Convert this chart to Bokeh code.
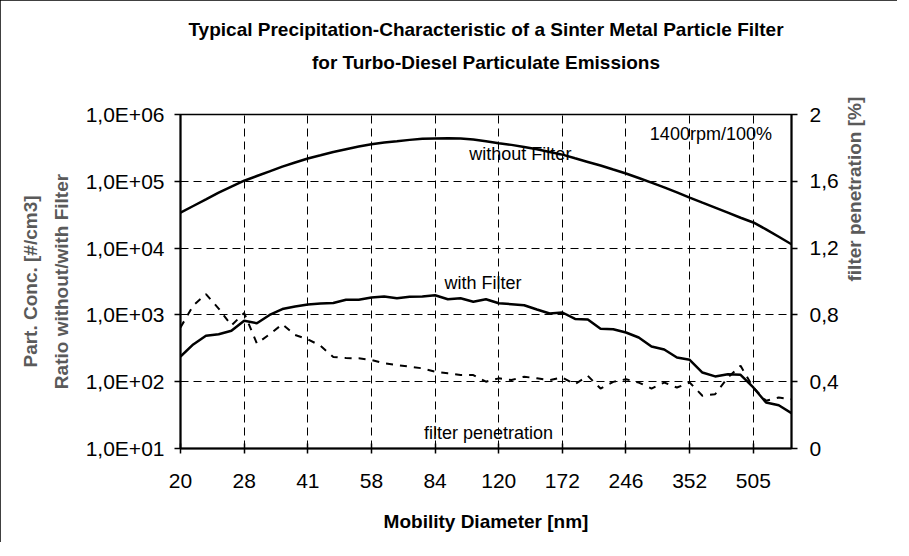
import math
from bokeh.plotting import figure
from bokeh.models import (Range1d, LinearAxis, LinearScale, FixedTicker, Label, Title,
                          CustomJSTickFormatter)
from bokeh.embed import file_html
from bokeh.resources import INLINE

# ---------------- data ----------------
DIAMETER = [19.85, 21.33, 22.92, 24.63, 26.47, 28.45, 30.57, 32.85, 35.30, 37.94,
            40.77, 43.81, 47.08, 50.59, 54.37, 58.42, 62.78, 67.47, 72.50, 77.91,
            83.72, 89.97, 96.68, 103.9, 111.6, 120.0, 128.9, 138.5, 148.9, 160.0,
            171.9, 184.7, 198.5, 213.3, 229.2, 246.3, 264.7, 284.5, 305.7, 328.5,
            353.0, 379.4, 407.7, 438.1, 470.8, 505.9, 543.6, 584.2, 627.8]

WITHOUT_FILTER = [33900, 42700, 53700, 67600, 83200, 102000, 120000, 141000, 166000, 191000,
                  219000, 245000, 275000, 302000, 331000, 359000, 380000, 398000, 417000, 432000,
                  438000, 440000, 437000, 422000, 398000, 372000, 351000, 327000, 302000, 275000,
                  251000, 221000, 195000, 172000, 150000, 131000, 112000, 95500, 81300, 68400,
                  57100, 47900, 40300, 33900, 28500, 24200, 19100, 14800, 11400]

WITH_FILTER = [238, 361, 486, 514, 578, 817, 751, 997, 1225, 1336,
               1431, 1482, 1507, 1683, 1683, 1821, 1885, 1778, 1866, 1885,
               1972, 1718, 1778, 1570, 1718, 1497, 1445, 1396, 1205, 1050,
               1086, 869, 854, 619, 611, 545, 459, 336, 303, 230,
               213, 137, 120, 129, 127, 82, 48.9, 44.5, 33.7]

PENETRATION = [0.725, 0.856, 0.924, 0.838, 0.737, 0.811, 0.629, 0.684, 0.744, 0.680,
               0.654, 0.615, 0.548, 0.542, 0.54, 0.53, 0.51, 0.50, 0.49, 0.48,
               0.46, 0.45, 0.44, 0.44, 0.40, 0.42, 0.41, 0.43, 0.42, 0.41,
               0.425, 0.385, 0.435, 0.359, 0.399, 0.415, 0.395, 0.359, 0.395, 0.365,
               0.395, 0.316, 0.325, 0.425, 0.495, 0.365, 0.286, 0.305, 0.295]

X_TICKS = DIAMETER[0::5]
X_TICK_LABELS = ["20", "28", "41", "58", "84", "120", "172", "246", "352", "505"]
LEFT_TICKS = [1e1, 1e2, 1e3, 1e4, 1e5, 1e6]
LEFT_TICK_LABELS = ["1,0E+01", "1,0E+02", "1,0E+03", "1,0E+04", "1,0E+05", "1,0E+06"]
RIGHT_TICKS = [0.0, 0.4, 0.8, 1.2, 1.6, 2.0]
RIGHT_TICK_LABELS = ["0", "0,4", "0,8", "1,2", "1,6", "2"]

TITLE_LINES = ["Typical Precipitation-Characteristic of a Sinter Metal Particle Filter",
               "for Turbo-Diesel Particulate Emissions"]
LEFT_TITLE = "Part. Conc. [#/cm3]\nRatio without/with Filter"
RIGHT_TITLE = "filter penetration [%]"
X_TITLE = "Mobility Diameter [nm]"

FONT = "Liberation Sans"
TICK_FS = "21px"
ANN_FS = "18px"


def fmt(tick_values, tick_labels):
    return CustomJSTickFormatter(
        args=dict(tvals=list(tick_values), tlabs=list(tick_labels)),
        code="""
        for (let i = 0; i < tvals.length; i++) {
            if (Math.abs(tvals[i] - tick) <= 1e-6 * Math.max(1, Math.abs(tvals[i]))) return tlabs[i];
        }
        return "";
        """)


p = figure(width=897, height=542, x_axis_type="log", y_axis_type="log",
           x_range=Range1d(DIAMETER[0], DIAMETER[-1]), y_range=Range1d(10, 1e6),
           output_backend="svg", toolbar_location=None, title=None,
           min_border_left=180, min_border_right=106, min_border_top=114, min_border_bottom=94)

p.background_fill_color = "white"
p.border_fill_color = "white"
p.outline_line_color = "black"
p.outline_line_width = 1.5
p.styles = {"outline": "2px solid black", "outline-offset": "-2px"}

# ---- title: each line its own centred Title; first added sits closest to the plot ----
title_style = dict(align="center", text_font=FONT, text_font_size="19px",
                   text_font_style="bold", text_color="black")
# second line (with a blank line below it to keep the gap above the plot area)
p.add_layout(Title(text=TITLE_LINES[1] + "\n ", text_line_height=1.5, standoff=20,
                   **title_style), "above")
# first line
p.add_layout(Title(text=TITLE_LINES[0], standoff=0, **title_style), "above")

# x axis
xa = p.xaxis[0]
xa.ticker = FixedTicker(ticks=X_TICKS, minor_ticks=[])
xa.formatter = fmt(X_TICKS, X_TICK_LABELS)
xa.axis_label = X_TITLE

# left axis
ya = p.yaxis[0]
ya.ticker = FixedTicker(ticks=LEFT_TICKS, minor_ticks=[])
ya.formatter = fmt(LEFT_TICKS, LEFT_TICK_LABELS)
ya.axis_label = LEFT_TITLE

# right axis (linear scale for penetration)
p.extra_y_ranges = {"pen": Range1d(0, 2)}
p.extra_y_scales = {"pen": LinearScale()}
ra = LinearAxis(y_range_name="pen", ticker=FixedTicker(ticks=RIGHT_TICKS, minor_ticks=[]),
                formatter=fmt(RIGHT_TICKS, RIGHT_TICK_LABELS), axis_label=RIGHT_TITLE)
p.add_layout(ra, "right")
if "axis_label_orientation" in ra.properties():
    ra.axis_label_orientation = math.pi / 2

for ax in (xa, ya, ra):
    ax.axis_line_color = "black"
    ax.axis_line_width = 2
    ax.major_tick_line_color = "black"
    ax.major_tick_line_width = 1.5
    ax.minor_tick_line_color = None
    ax.major_label_text_font = FONT
    ax.major_label_text_font_size = TICK_FS
    ax.major_label_text_color = "black"
    ax.axis_label_text_font = FONT
    ax.axis_label_text_font_size = "19px"
    ax.axis_label_text_font_style = "bold"

xa.major_tick_in = 5
xa.major_tick_out = 5
xa.major_label_standoff = 20
xa.axis_label_standoff = 20
xa.axis_label_text_color = "black"

ya.major_tick_in = 0
ya.major_tick_out = 6
ya.major_label_standoff = 10
ya.axis_label_standoff = 11
ya.axis_label_text_color = "#5a5a5a"
ya.axis_label_text_line_height = 1.45

ra.major_tick_in = 0
ra.major_tick_out = 6
ra.major_label_standoff = 12
ra.axis_label_standoff = 13
ra.axis_label_text_color = "#5a5a5a"

# grids
p.xgrid.ticker = FixedTicker(ticks=X_TICKS)
p.ygrid.ticker = FixedTicker(ticks=LEFT_TICKS)
for g in (p.xgrid, p.ygrid):
    g.grid_line_color = "black"
    g.grid_line_width = 1
    g.grid_line_dash = "8 5"
    g.grid_line_alpha = 1

# lines
p.line(DIAMETER, WITHOUT_FILTER, line_color="black", line_width=2.5)
p.line(DIAMETER, WITH_FILTER, line_color="black", line_width=2.5)
p.line(DIAMETER, PENETRATION, line_color="black", line_width=2, line_dash="7 7",
       y_range_name="pen")


def d_at(i):
    # position along the channel axis (32 channels per decade)
    return DIAMETER[0] * 10 ** (i / 32.0)


for txt, xi, yv, rng in [("without Filter", 26.7, 10 ** 5.406, None),
                         ("with Filter", 23.76, 10 ** 3.485, None),
                         ("1400rpm/100%", 41.67, 10 ** 5.705, None),
                         ("filter penetration", 24.2, 0.09, "pen")]:
    kw = dict(x=d_at(xi), y=yv, text=txt, text_align="center", text_baseline="middle",
              text_font=FONT, text_font_size=ANN_FS, text_color="black")
    if rng:
        kw["y_range_name"] = rng
    p.add_layout(Label(**kw))

open("out.html", "w").write(file_html(p, INLINE))
